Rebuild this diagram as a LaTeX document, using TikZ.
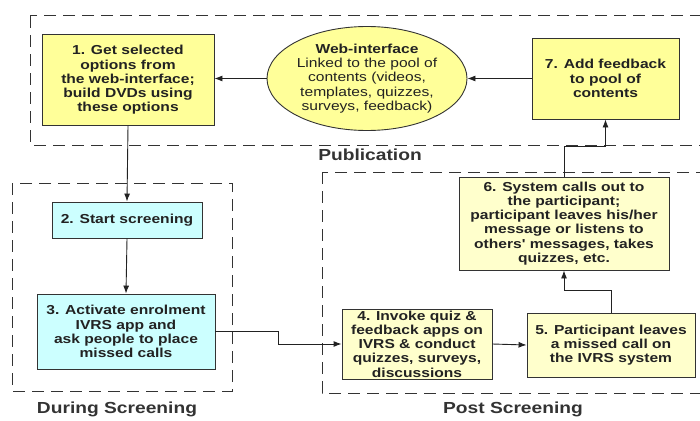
\documentclass[tikz,border=0pt]{standalone}
\usepackage{fontspec}
\setmainfont[FakeStretch=1.2,Ligatures=TeXOff]{Liberation Sans}
\usetikzlibrary{arrows.meta,shapes.geometric}
\definecolor{ylw}{HTML}{FFFF99}
\definecolor{lylw}{HTML}{FFFFCC}
\definecolor{cyn}{HTML}{CCFFFF}
\definecolor{ink}{HTML}{222222}
\definecolor{edge}{HTML}{333333}
\begin{document}
\begin{tikzpicture}[x=1pt,y=-1pt,
  box/.style={draw=edge,line width=0.9pt,align=center,inner sep=0pt,text=ink,
    font=\fontsize{13}{14.2}\selectfont\bfseries},
  region/.style={draw=edge,line width=1pt,dash pattern=on 12pt off 7pt},
  lbl/.style={text=edge,font=\fontsize{16}{18}\selectfont\bfseries},
  arr/.style={draw=ink,line width=0.9pt,-{Latex[length=8pt,width=6pt]}}]
\useasboundingbox (0,0) rectangle (700,420);
% regions
\draw[region] (30,16) rectangle (712,145);
\draw[region] (12,183) rectangle (232,391);
\draw[region] (322,172) rectangle (712,393);
\node[lbl] (lpub) at (370,155) {Publication};
\node[lbl] (ldur) at (117,409) {During Screening};
\node[lbl] (lpost) at (513,409) {Post Screening};
% nodes
\node[box,fill=ylw,minimum width=172pt,minimum height=91pt] (b1) at (128,80)
  {1. Get selected\\options from\\the web-interface;\\build DVDs using\\these options};
\node[draw=edge,line width=0.9pt,fill=ylw,ellipse,minimum width=200pt,minimum height=104pt,
  inner sep=0pt,align=center,text=ink,font=\fontsize{13}{14.2}\selectfont] (web) at (367,78.5)
  {\textbf{Web-interface}\\Linked to the pool of\\contents (videos,\\templates, quizzes,\\surveys, feedback)};
\node[box,fill=ylw,minimum width=147pt,minimum height=81pt] (b7) at (605.5,78.5)
  {7. Add feedback\\to pool of\\contents};
\node[box,fill=cyn,minimum width=150pt,minimum height=36pt] (b2) at (127,220)
  {2. Start screening};
\node[box,fill=cyn,minimum width=178pt,minimum height=75pt] (b3) at (126,331.5)
  {3. Activate enrolment\\IVRS app and\\ask people to place\\missed calls};
\node[box,fill=lylw,minimum width=150pt,minimum height=70pt] (b4) at (417,344)
  {4. Invoke quiz \&\\feedback apps on\\IVRS \& conduct\\quizzes, surveys,\\discussions};
\node[box,fill=lylw,minimum width=168pt,minimum height=64pt] (b5) at (611,345)
  {5. Participant leaves\\a missed call on\\the IVRS system};
\node[box,fill=lylw,minimum width=210pt,minimum height=93pt] (b6) at (564,223.5)
  {6. System calls out to\\the participant;\\participant leaves his/her\\message or listens to\\others' messages, takes\\quizzes, etc.};
% connectors
\draw[arr] (web.west) -- (b1.east |- web.west);
\draw[arr] (b7.west) -- (web.east);
\draw[arr] (b1.south) -- (b2.north);
\draw[arr] (b2.south) -- (b3.north);
\draw[arr] (b3.east) -- ([xshift=63pt]b3.east) |- (b4.west);
\draw[arr] (b4.east) -- (b5.west);
\draw[arr] (b5.north) -- ++(0,-22) -| (b6.south);
\draw[arr] (b6.north) -- ++(0,-30) -| (b7.south);
\end{tikzpicture}
\end{document}
